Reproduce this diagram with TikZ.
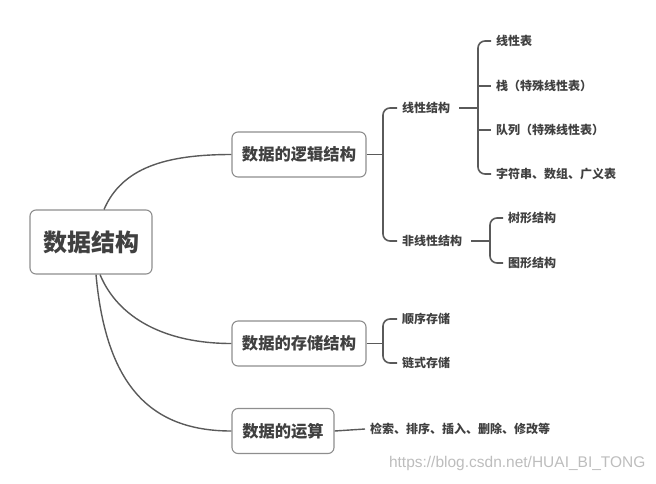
\documentclass[tikz,border=0pt]{standalone}
\usepackage{fontspec}
\newfontfamily\cjk{Noto Sans CJK SC}
\setsansfont{Liberation Sans}
\usetikzlibrary{positioning}
\definecolor{ink}{HTML}{404040}
\definecolor{edge}{HTML}{5A5A5A}
\definecolor{frame}{HTML}{8E8E8E}
\definecolor{mark}{HTML}{BDBDBD}
\begin{document}
\begin{tikzpicture}[x=1pt,y=-1pt,
 box/.style={draw=frame,line width=1.1pt,rounded corners=6pt,fill=white,minimum height=45pt,
 text=ink,font=\cjk\bfseries\fontsize{16.3}{20}\selectfont},
 leaf/.style={anchor=west,inner sep=1pt,text=ink,font=\cjk\bfseries\fontsize{12}{14}\selectfont},
 link/.style={draw=edge,line width=1.4pt},
 brace/.style={draw=edge,line width=1.6pt,rounded corners=7pt}]
 \useasboundingbox (0,0) rectangle (656,483);
 % main boxes
 \node[box,minimum width=122pt,minimum height=64pt,font=\cjk\bfseries\fontsize{24}{28}\selectfont] (root) at (91,242) {数据结构};
 \node[box,minimum width=134pt] (logic) at (299,154.5) {数据的逻辑结构};
 \node[box,minimum width=134pt] (store) at (299,343.5) {数据的存储结构};
 \node[box,minimum width=102pt] (ops) at (283,431) {数据的运算};
 % leaves
 \node[leaf] (lin) at (401,108) {线性结构};
 \node[leaf] (nonlin) at (401,241) {非线性结构};
 \node[leaf] (tab) at (495,41) {线性表};
 \node[leaf] (stack) at (495,86) {栈（特殊线性表）};
 \node[leaf] (queue) at (495,130) {队列（特殊线性表）};
 \node[leaf] (str) at (495,174) {字符串、数组、广义表};
 \node[leaf] (tree) at (507,218) {树形结构};
 \node[leaf] (graph) at (507,263) {图形结构};
 \node[leaf] (seq) at (401,319) {顺序存储};
 \node[leaf] (chain) at (401,363) {链式存储};
 \node[leaf] (act) at (369,429) {检索、排序、插入、删除、修改等};
 \node[anchor=east,text=mark,font=\sffamily\fontsize{15.5}{18}\selectfont] (wm) at (649,463) {https://blog.csdn.net/HUAI\_BI\_TONG};
 % brace joints
 \coordinate (b1) at (383,154.5);
 \coordinate (b2) at (478,108);
 \coordinate (b3) at (490,241);
 \coordinate (b4) at (383,343.5);
 % root curves
 \draw[link] ([xshift=13pt]root.north) .. controls (122,168) and (165,154.5) .. (logic.west);
 \draw[link] ([xshift=9pt]root.south) .. controls (118,318) and (165,343.5) .. (store.west);
 \draw[link] ([xshift=5pt]root.south) .. controls (106,385) and (150,431) .. (ops.west);
 % logic structure
 \draw[link] (logic.east) -- (b1);
 \draw[brace] ([xshift=-4pt]lin.west) -| (b1) |- ([xshift=-4pt]nonlin.west);
 \draw[link] ([xshift=8pt]lin.east) -- (b2);
 \draw[brace] ([xshift=-4pt]tab.west) -| (b2) |- ([xshift=-4pt]str.west);
 \draw[link] (b2 |- stack.west) -- ([xshift=-4pt]stack.west);
 \draw[link] (b2 |- queue.west) -- ([xshift=-4pt]queue.west);
 \draw[link] ([xshift=8pt]nonlin.east) -- (b3);
 \draw[brace] ([xshift=-4pt]tree.west) -| (b3) |- ([xshift=-4pt]graph.west);
 % storage and operations
 \draw[link] (store.east) -- (b4);
 \draw[brace] ([xshift=-4pt]seq.west) -| (b4) |- ([xshift=-4pt]chain.west);
 \draw[link] (ops.east) -- ([xshift=-4pt]act.west);
\end{tikzpicture}
\end{document}
